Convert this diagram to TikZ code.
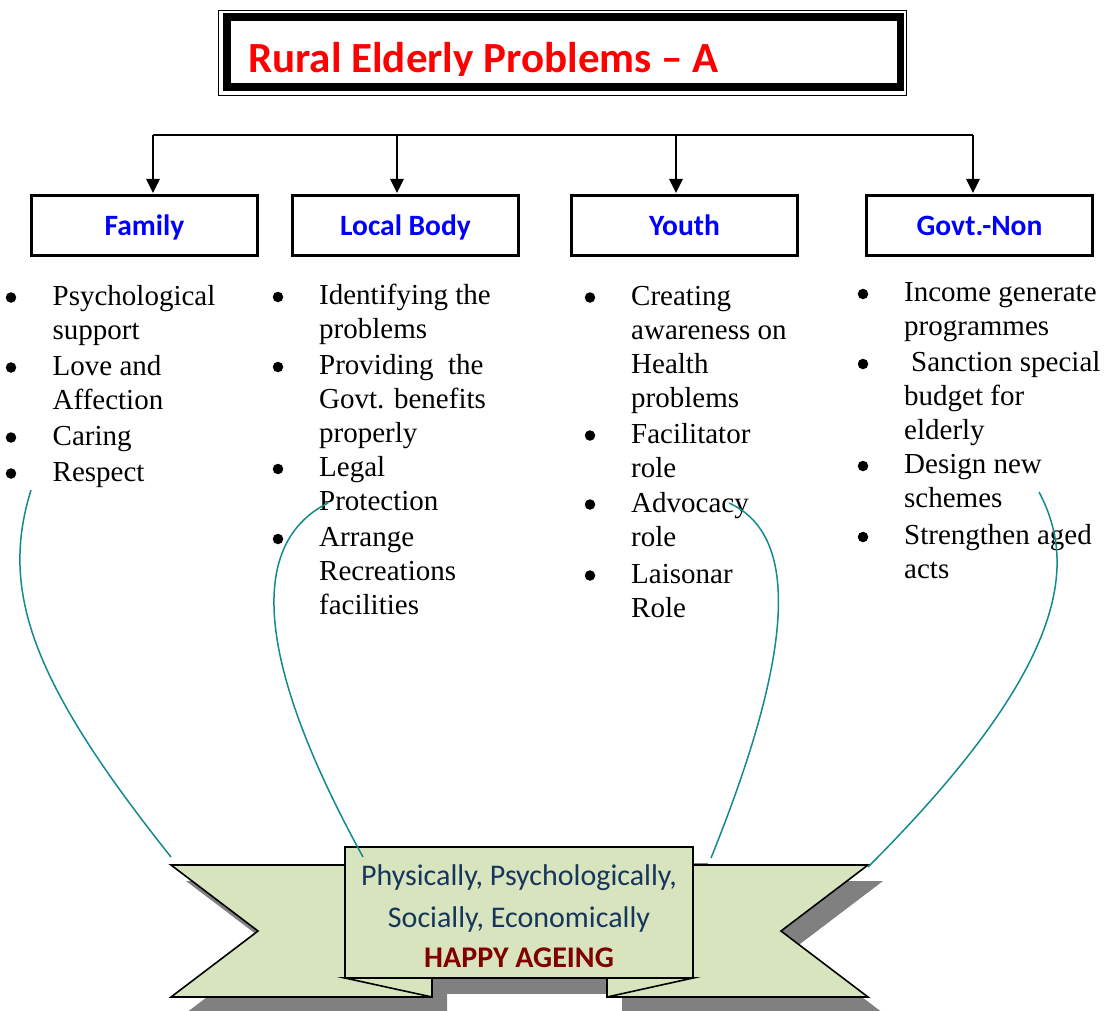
\documentclass[tikz,border=0pt]{standalone}
\usepackage{fontspec}
\setmainfont{Liberation Serif}
\newfontfamily\calibri{Carlito}
\usetikzlibrary{arrows.meta}

\definecolor{ribbongreen}{HTML}{D7E4BD}
\definecolor{ribbonshadow}{HTML}{808080}
\definecolor{curveteal}{HTML}{138A8C}
\definecolor{navytext}{HTML}{17365D}
\definecolor{maroontext}{HTML}{800000}
\definecolor{labelblue}{HTML}{0000FF}
\definecolor{titlered}{HTML}{FF0000}

% one bullet point: name, bullet x, text x, baseline y, lines
\newcommand\bulletitem[5]{%
  \node[bul] (#1b) at (#2,#4-7.5) {};
  \node[itemtext] (#1) at (#3,#4) {\begin{tabular}[t]{@{}l@{}}#5\end{tabular}};
}

\begin{document}
\begin{tikzpicture}[x=1pt,y=-1pt,
  headbox/.style={draw, line width=3.4pt, minimum width=226pt, minimum height=59.5pt,
    inner sep=0pt, text height=19pt, text depth=0pt,
    font=\calibri\bfseries\fontsize{29.5}{34}\selectfont, text=labelblue},
  barline/.style={line width=1.6pt},
  drop/.style={line width=1.6pt, -{Triangle[width=13.5pt,length=14pt]}, shorten >=1.2pt},
  bul/.style={circle, fill=black, inner sep=0pt, minimum size=10.5pt},
  itemtext/.style={anchor=base west, inner sep=0pt, font=\fontsize{29}{34}\selectfont},
  ribbonline/.style={draw=black, line width=1.6pt, line join=miter, fill=ribbongreen},
  ribbontext/.style={anchor=base, inner sep=0pt, font=\calibri\fontsize{30}{34}\selectfont},
  link/.style={draw=curveteal, line width=1.5pt}
]
\useasboundingbox (0,0) rectangle (1107,1010);

% title frame: thin outer line and heavy inner line
\draw[line width=1.5pt] (218.5,10.5) rectangle (906.5,95.5);
\draw[line width=7.5pt] (227,17) rectangle (900.5,87);
\begin{scope}
  \clip (232,22) rectangle (896,75);
  \node[anchor=base west, inner sep=0pt, text=titlered,
    font=\calibri\bfseries\fontsize{43}{50}\selectfont] (title) at (248,72.5)
    {Rural Elderly Problems – A};
\end{scope}

% four agency boxes
\node[headbox] (family) at (144.5,225.5) {Family};
\node[headbox] (local)  at (405.5,225.5) {Local Body};
\node[headbox] (youth)  at (684.5,225.5) {Youth};
\node[headbox] (govt)   at (979.5,225.5) {Govt.-Non};

% distribution bar with drops
\coordinate (bar1) at (153,135);
\coordinate (bar2) at (397,135);
\coordinate (bar3) at (676,135);
\coordinate (bar4) at (973,135);
\draw[barline] (bar1) -- (bar4);
\draw[drop] (bar1) -- (bar1 |- family.north);
\draw[drop] (bar2) -- (bar2 |- local.north);
\draw[drop] (bar3) -- (bar3 |- youth.north);
\draw[drop] (bar4) -- (bar4 |- govt.north);

% family
\bulletitem{fam1}{11}{52.5}{305}{Psychological\\support}
\bulletitem{fam2}{11}{52.5}{375}{Love and\\Affection}
\bulletitem{fam3}{11}{52.5}{445}{Caring}
\bulletitem{fam4}{11}{52.5}{481}{Respect}

% local body
\bulletitem{loc1}{278}{319}{304.5}{Identifying the\\problems}
\bulletitem{loc2}{278}{319}{374.5}{Providing\ \ the\\Govt. benefits\\properly}
\bulletitem{loc3}{278}{319}{476.5}{Legal\\Protection}
\bulletitem{loc4}{278}{319}{546.5}{Arrange\\Recreations\\facilities}

% youth
\bulletitem{you1}{590}{631}{305}{Creating\\awareness on\\Health\\problems}
\bulletitem{you2}{590}{631}{443}{Facilitator\\role}
\bulletitem{you3}{590}{631}{512}{Advocacy\\role}
\bulletitem{you4}{590}{631}{583}{Laisonar\\Role}

% government and non-government
\bulletitem{gov1}{863}{904}{301.5}{Income generate\\programmes}
\bulletitem{gov2}{863}{904}{371.5}{\hspace*{7pt}Sanction special\\budget for\\elderly}
\bulletitem{gov3}{863}{904}{473.5}{Design new\\schemes}
\bulletitem{gov4}{863}{904}{544.5}{Strengthen aged\\acts}

% ribbon shadow
\begin{scope}[shift={(15,16)}]
  \fill[ribbonshadow] (171,865) -- (432,865) -- (432,997) -- (171,997) -- (258,931) -- cycle;
  \fill[ribbonshadow] (868,865) -- (607,865) -- (607,997) -- (868,997) -- (781,931) -- cycle;
  \fill[ribbonshadow] (345,847) rectangle (693,978);
\end{scope}

% ribbon bands, folds and centre panel
\path[ribbonline] (171,865) -- (432,865) -- (432,997) -- (171,997) -- (258,931) -- cycle;
\path[ribbonline] (868,865) -- (607,865) -- (607,997) -- (868,997) -- (781,931) -- cycle;
\path[ribbonline] (345,978) -- (432,997) -- (432,978) -- cycle;
\path[ribbonline] (693,978) -- (607,997) -- (607,978) -- cycle;
\node[ribbonline, minimum width=348pt, minimum height=131pt, inner sep=0pt] (panel) at (519,912.5) {};

\node[ribbontext, text=navytext] (rib1) at (519,885.5) {Physically, Psychologically,};
\node[ribbontext, text=navytext] (rib2) at (519,927) {Socially, Economically};
\node[ribbontext, text=maroontext, font=\calibri\bfseries\fontsize{30}{34}\selectfont] (rib3) at (519,967) {HAPPY AGEING};

% links from the lists down to the ribbon
\coordinate (s1) at (31,490);
\coordinate (e1) at (171,857);
\coordinate (s2) at (328,503);
\coordinate (e2) at (363,857);
\coordinate (s3) at (729,503);
\coordinate (e3) at (711,858);
\coordinate (s4) at (1039,492);
\coordinate (e4) at (868,867);
\draw[link] (s1) .. controls (0,590) and (30,680) .. (e1);
\draw[link] (s2) .. controls (250,542) and (252,655) .. (e2);
\draw[link] (s3) .. controls (800,535) and (795,650) .. (e3);
\draw[link] (s4) .. controls (1075,560) and (1075,660) .. (e4);
\end{tikzpicture}
\end{document}
